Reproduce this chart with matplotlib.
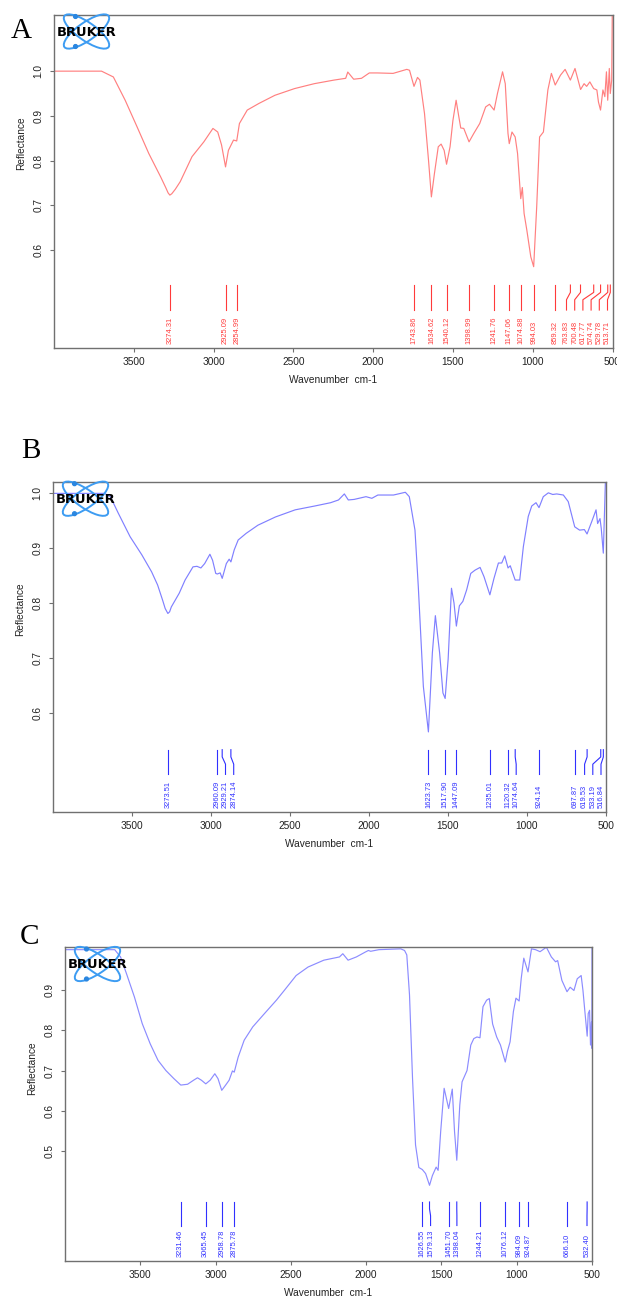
import matplotlib
matplotlib.use('Agg')
import matplotlib.pyplot as plt
from matplotlib.patches import Ellipse, Circle

plt.rcParams['font.family'] = ['Liberation Sans', 'DejaVu Sans']

# ---------------- data ----------------
wn_A = [4000, 3850, 3702, 3628, 3554, 3480, 3406, 3332, 3300, 3285, 3274, 3262, 3240, 3209, 3135, 3061, 3004, 2974, 2950,
        2925, 2907, 2875, 2855, 2838, 2789, 2715, 2616, 2493, 2369, 2246, 2172, 2159, 2122, 2073,
        2024, 1974, 1875, 1789, 1772, 1744, 1722, 1707, 1678, 1653, 1635, 1616, 1592, 1574, 1555,
        1540, 1518, 1500, 1480, 1463, 1451, 1432, 1399, 1369, 1332, 1295, 1271, 1242, 1221, 1189,
        1172, 1155, 1147, 1130, 1110, 1095, 1075, 1065, 1054, 1037, 1012, 994, 975, 957, 933, 905,
        883, 859, 826, 797, 764, 735, 700, 678, 662, 642, 618, 598, 588, 575, 560, 548, 538, 530,
        520, 514, 505, 501]
refl_A = [1.000, 1.000, 1.000, 0.987, 0.935, 0.876, 0.816, 0.764, 0.740, 0.728, 0.723, 0.726, 0.736, 0.753, 0.809, 0.842, 0.872, 0.864, 0.835,
          0.786, 0.823, 0.846, 0.844, 0.883, 0.913, 0.928, 0.946, 0.961, 0.972, 0.980, 0.984, 0.998, 0.982, 0.984,
          0.996, 0.996, 0.995, 1.004, 1.002, 0.966, 0.986, 0.980, 0.905, 0.801, 0.719, 0.771, 0.831, 0.837, 0.823,
          0.792, 0.831, 0.890, 0.935, 0.898, 0.873, 0.872, 0.842, 0.861, 0.883, 0.920, 0.926, 0.913, 0.950, 0.9985,
          0.972, 0.861, 0.838, 0.864, 0.853, 0.816, 0.715, 0.740, 0.682, 0.645, 0.585, 0.563, 0.697, 0.853, 0.864, 0.958,
          0.995, 0.969, 0.991, 1.004, 0.980, 1.006, 0.959, 0.972, 0.966, 0.976, 0.961, 0.958, 0.931, 0.913, 0.958, 0.943, 0.9985, 0.935,
          1.006, 0.950, 0.980, 1.150]
peaks_A = [3274.31, 2925.09, 2854.99, 1743.86, 1634.62, 1540.12, 1398.99, 1241.76, 1147.06, 1074.88,
           994.03, 859.32, 763.83, 700.48, 617.77, 574.74, 529.78, 513.71]

wn_B = [4000, 3674, 3637, 3587, 3512, 3438, 3376, 3338, 3306, 3290, 3273, 3262, 3251, 3201, 3164, 3114, 3089,
        3064, 3040, 3007, 2990, 2970, 2960, 2942, 2929, 2903, 2885, 2874, 2853, 2828, 2778, 2703,
        2592, 2467, 2343, 2243, 2193, 2156, 2131, 2094, 2019, 1982, 1944, 1845, 1770, 1745, 1709,
        1688, 1656, 1624, 1599, 1580, 1553, 1532, 1518, 1499, 1478, 1462, 1447, 1428, 1406, 1382,
        1356, 1329, 1297, 1272, 1235, 1209, 1181, 1160, 1141, 1120, 1106, 1075, 1046, 1023, 992,
        970, 943, 924, 897, 865, 837, 812, 770, 739, 698, 667, 637, 620, 591, 563, 553, 538, 530,
        517, 504, 501]
refl_B = [1.000, 1.000, 0.994, 0.964, 0.921, 0.888, 0.857, 0.833, 0.805, 0.790, 0.781, 0.784, 0.793, 0.818, 0.842, 0.866, 0.867,
          0.864, 0.872, 0.889, 0.878, 0.854, 0.853, 0.855, 0.845, 0.872, 0.880, 0.875, 0.897, 0.915, 0.927, 0.942,
          0.957, 0.970, 0.977, 0.983, 0.988, 0.999, 0.988, 0.989, 0.994, 0.991, 0.997, 0.997, 1.002, 0.994, 0.933,
          0.830, 0.648, 0.565, 0.709, 0.777, 0.709, 0.636, 0.626, 0.698, 0.827, 0.800, 0.758, 0.795, 0.803, 0.824,
          0.854, 0.860, 0.865, 0.848, 0.815, 0.845, 0.873, 0.873, 0.886, 0.864, 0.868, 0.842, 0.842, 0.903, 0.958,
          0.977, 0.983, 0.974, 0.994, 1.001, 0.998, 0.999, 0.997, 0.985, 0.939, 0.933, 0.934, 0.926, 0.948, 0.970, 0.945, 0.954, 0.936,
          0.891, 1.020, 1.060]
peaks_B = [3273.51, 2960.09, 2929.21, 2874.14, 1623.73, 1517.90, 1447.09, 1235.01, 1120.32, 1074.64,
           924.14, 697.87, 619.53, 533.19, 516.84]

wn_C = [4000, 3670, 3631, 3592, 3539, 3487, 3434, 3382, 3330, 3277, 3231, 3186, 3146, 3120, 3094,
        3065, 3036, 3005, 2984, 2959, 2935, 2910, 2888, 2876, 2850, 2810, 2753, 2675, 2596, 2544,
        2465, 2386, 2281, 2177, 2155, 2120, 2065, 2006, 1985, 1970, 1915, 1770, 1745, 1730, 1712,
        1692, 1672, 1650, 1627, 1605, 1579, 1560, 1535, 1522, 1505, 1482, 1452, 1428, 1413, 1398,
        1378, 1363, 1330, 1305, 1285, 1264, 1244, 1224, 1200, 1182, 1160, 1133, 1108, 1076, 1062,
        1044, 1022, 1005, 984, 970, 953, 925, 902, 875, 845, 803, 770, 742, 728, 700, 666, 645,
        620, 598, 572, 560, 550, 532, 525, 516, 510, 504, 501, 500]
refl_C = [0.999, 0.999, 0.981, 0.940, 0.882, 0.816, 0.766, 0.725, 0.700, 0.680, 0.664, 0.666, 0.676, 0.682, 0.676,
          0.667, 0.676, 0.692, 0.680, 0.651, 0.663, 0.676, 0.699, 0.696, 0.733, 0.775, 0.808, 0.841, 0.874, 0.898,
          0.935, 0.956, 0.973, 0.981, 0.989, 0.973, 0.981, 0.993, 0.997, 0.995, 0.999, 1.001, 0.997, 0.986, 0.887,
          0.681, 0.516, 0.460, 0.455, 0.445, 0.416, 0.440, 0.461, 0.453, 0.549, 0.656, 0.606, 0.654, 0.549, 0.478,
          0.615, 0.672, 0.700, 0.763, 0.779, 0.783, 0.781, 0.858, 0.874, 0.878, 0.815, 0.783, 0.763, 0.721, 0.747,
          0.771, 0.846, 0.879, 0.872, 0.928, 0.978, 0.944, 1.001, 0.999, 0.994, 1.005, 0.981, 0.969, 0.972, 0.923, 0.895, 0.906,
          0.898, 0.927, 0.935, 0.898, 0.857, 0.785, 0.841, 0.849, 0.763, 0.820, 0.755, 1.005]
peaks_C = [3231.46, 3065.45, 2958.78, 2875.78, 1626.55, 1579.13, 1451.70, 1398.04, 1244.21, 1076.12,
           984.09, 924.87, 666.10, 532.40]

x_ticks = [3500, 3000, 2500, 2000, 1500, 1000, 500]
y_ticks_A = [0.6, 0.7, 0.8, 0.9, 1.0]
y_ticks_B = [0.6, 0.7, 0.8, 0.9, 1.0]
y_ticks_C = [0.5, 0.6, 0.7, 0.8, 0.9]
panel_letters = ['A', 'B', 'C']

# ---------------- layout ----------------
W, H = 617, 1297
fig = plt.figure(figsize=(W / 100, H / 100), dpi=100)

panels = [
    dict(letter='A', wn=wn_A, refl=refl_A, peaks=peaks_A, yt=y_ticks_A, ylim=(0.382, 1.1266),
         box=(54, 14.5, 612.5, 347.7), line='#ff8080', mark='#ff3a3a', letter_xy=(21.5, 28)),
    dict(letter='B', wn=wn_B, refl=refl_B, peaks=peaks_B, yt=y_ticks_B, ylim=(0.4195, 1.0213),
         box=(53, 481.7, 606, 811.7), line='#8080ff', mark='#3030ff', letter_xy=(30.5, 448)),
    dict(letter='C', wn=wn_C, refl=refl_C, peaks=peaks_C, yt=y_ticks_C, ylim=(0.2287, 1.0056),
         box=(65, 947, 592, 1261), line='#8c8cff', mark='#3030ff', letter_xy=(29.5, 934.5)),
]

XMAX, XMIN = 4000, 500
FRAME = '#707070'


def spread(peaks, width_px, d=8.2, margin=5.0):
    ppx = width_px / (XMAX - XMIN)
    order = sorted(peaks, reverse=True)
    px = [(XMAX - p) * ppx for p in order]
    pos = list(px)
    for i in range(1, len(pos)):
        pos[i] = max(pos[i], pos[i - 1] + d)
    lim = width_px - margin
    if pos[-1] > lim:
        pos[-1] = lim
        for i in range(len(pos) - 2, -1, -1):
            pos[i] = min(pos[i], pos[i + 1] - d)
    return [(p, XMAX - q / ppx) for p, q in zip(order, pos)]


overlay_items = []
for P in panels:
    l, t, r, b = P['box']
    ax = fig.add_axes([l / W, 1 - b / H, (r - l) / W, (b - t) / H])
    ax.plot(P['wn'], P['refl'], color=P['line'], lw=0.85, solid_joinstyle='round')
    ax.set_xlim(XMAX, XMIN)
    ax.set_ylim(*P['ylim'])
    ax.set_xticks(x_ticks)
    ax.set_xticklabels([str(v) for v in x_ticks])
    ax.set_yticks(P['yt'])
    ax.set_yticklabels([f"{v:.1f}" for v in P['yt']], rotation=90, va='center')
    ax.tick_params(axis='both', direction='out', length=3, width=0.8, color=FRAME,
                   labelsize=7.3, labelcolor='#222222')
    ax.tick_params(axis='x', pad=3.8)
    ax.tick_params(axis='y', pad=4.6)
    for s in ax.spines.values():
        s.set_color(FRAME)
        s.set_linewidth(1.0)

    trans = ax.get_xaxis_transform()
    for p, lab in spread(P['peaks'], r - l):
        ax.plot([p, p, lab, lab], [0.188, 0.166, 0.144, 0.113], transform=trans,
                color=P['mark'], lw=0.8, clip_on=False)
        ax.text(lab, 0.012, f"{p:.2f}", transform=trans, rotation=90, ha='center',
                va='bottom', fontsize=5.4, color=P['mark'])

    # axis titles
    fig.text((l + r) / 2 / W, 1 - (b + 32) / H, 'Wavenumber  cm-1', ha='center', va='center',
             fontsize=7.3, color='#222222')
    fig.text((l - 33) / W, 1 - (b - 0.615 * (b - t)) / H, 'Reflectance', rotation=90,
             ha='center', va='center', fontsize=7.3, color='#222222')
    overlay_items.append((l, t, P['letter'], P['letter_xy']))

# overlay in pixel coordinates for logos and panel letters
ov = fig.add_axes([0, 0, 1, 1])
ov.set_xlim(0, W)
ov.set_ylim(H, 0)
ov.axis('off')
for l, t, letter, (lx, ly) in overlay_items:
    cx, cy = l + 32.5, t + 17
    for ang in (35, -35):
        ov.add_patch(Ellipse((cx, cy), 54, 18, angle=ang, fill=False,
                             edgecolor='#3d9cf2', lw=1.4))
    for dy in (-15, 15):
        ov.add_patch(Circle((cx - 11, cy + dy), 1.9, color='#2a86e0'))
    ov.text(cx, cy + 0.5, 'BRUKER', ha='center', va='center', fontsize=9.4,
            fontweight='bold', family='DejaVu Sans', color='black')
    ov.text(lx, ly + 9.7, letter, ha='center', va='baseline', fontsize=21,
            family='Liberation Serif', color='black')

fig.savefig('out.png', dpi=100)
